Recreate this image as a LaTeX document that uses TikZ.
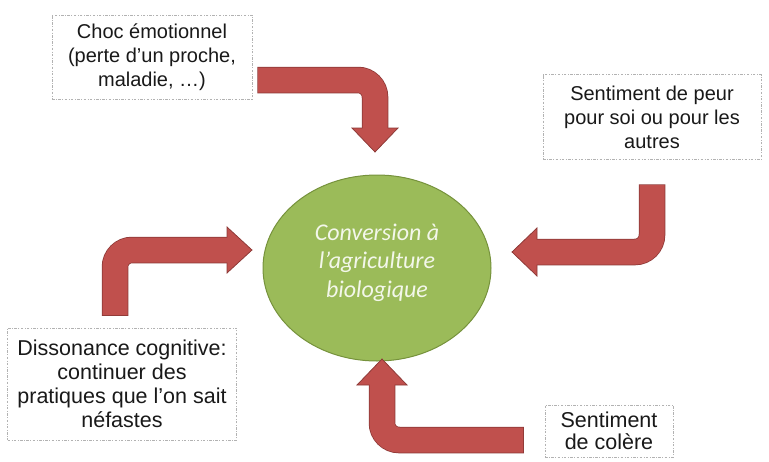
\documentclass[tikz,border=0pt]{standalone}
\usepackage{fontspec}
\setmainfont{Liberation Sans}
\newfontfamily\goalfont{Carlito}
\usetikzlibrary{shapes.geometric}

\definecolor{arrowred}{HTML}{C0504D}
\definecolor{arrowdark}{HTML}{8C3836}
\definecolor{leafgreen}{HTML}{9BBB59}
\definecolor{leafdark}{HTML}{76923C}
\definecolor{leaftext}{HTML}{F3F7EA}

\tikzstyle{cause} = [rectangle, draw=gray!60, dash pattern=on 2.5pt off 1.5pt on 0.8pt off 1.5pt, line width=0.6pt, fill=white, align=center, inner sep=3pt, text=black!90, font=\fontsize{20}{24}\selectfont]
\tikzstyle{goal} = [ellipse, draw=leafdark, line width=1pt, fill=leafgreen, text=leaftext, align=center, inner sep=0pt, text depth=15pt, font=\goalfont\itshape\fontsize{24}{28.5}\selectfont]
\tikzstyle{shaftline} = [line width=26.5pt, draw=arrowdark, rounded corners=17pt]
\tikzstyle{shaftfill} = [line width=25pt, draw=arrowred, rounded corners=17pt]
\tikzstyle{headtip} = [fill=arrowred, draw=arrowdark, line width=0.75pt, line join=miter]

\begin{document}
\begin{tikzpicture}[x=1pt,y=-1pt]
\useasboundingbox (0,0) rectangle (769,461);

\node (conv) [goal, minimum width=228pt, minimum height=186pt] at (377,268) {Conversion à\\l’agriculture\\biologique};
\node (choc) [cause, minimum width=200pt, minimum height=84pt] at (152,57) {Choc émotionnel\\(perte d’un proche,\\maladie, …)};
\node (peur) [cause, minimum width=218pt, minimum height=85pt] at (652,117) {Sentiment de peur\\pour soi ou pour les\\autres};
\node (disso) [cause, minimum width=229pt, minimum height=112pt, font=\fontsize{21.5}{24}\selectfont] at (122,384) {Dissonance cognitive:\\continuer des\\pratiques que l’on sait\\néfastes};
\node (colere) [cause, minimum width=128pt, minimum height=52pt, font=\fontsize{21.5}{22}\selectfont] at (609,431) {Sentiment\\de colère};

% arrow ends
\coordinate (choc out) at (258,80);
\coordinate (conv n) at (375,128);
\coordinate (peur out) at (652,185);
\coordinate (conv e) at (537,252);
\coordinate (disso out) at (115,315);
\coordinate (conv w) at (227,250);
\coordinate (colere out) at (523,440);
\coordinate (conv s) at (382,385);

\draw [shaftline, shorten <=-0.75pt] (choc out) -| (conv n);
\filldraw [headtip, shift={(conv n)}] (-23,0) -- (23,0) -- (0,24) -- cycle;
\draw [shaftfill, shorten >=-1pt] (choc out) -| (conv n);

\draw [shaftline, shorten <=-0.75pt] (peur out) |- (conv e);
\filldraw [headtip, shift={(conv e)}] (0,-24) -- (0,24) -- (-25,0) -- cycle;
\draw [shaftfill, shorten >=-1pt] (peur out) |- (conv e);

\draw [shaftline, shorten <=-0.75pt] (disso out) |- (conv w);
\filldraw [headtip, shift={(conv w)}] (0,-23) -- (0,23) -- (25,0) -- cycle;
\draw [shaftfill, shorten >=-1pt] (disso out) |- (conv w);

\draw [shaftline, shorten <=-0.75pt] (colere out) -| (conv s);
\filldraw [headtip, shift={(conv s)}] (-25,0) -- (25,0) -- (0,-26) -- cycle;
\draw [shaftfill, shorten >=-1pt] (colere out) -| (conv s);
\end{tikzpicture}
\end{document}
